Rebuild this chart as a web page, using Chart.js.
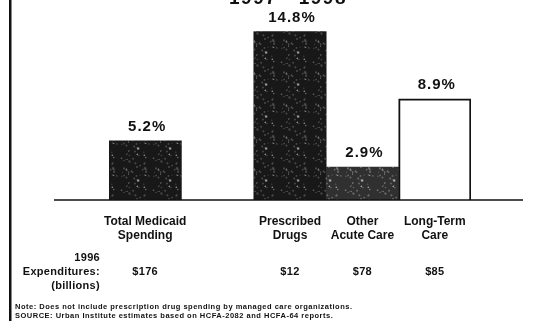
<!DOCTYPE html>
<html>
<head>
<meta charset="utf-8">
<script src="https://cdn.jsdelivr.net/npm/chart.js@4.4.1/dist/chart.umd.min.js"></script>
<style>
  html, body { margin: 0; padding: 0; background: #fff; }
  #growthChart { display: block; }
</style>
</head>
<body>
<canvas id="growthChart" width="549" height="321"></canvas>
<script>
// Medicaid spending growth by service type, 1997-1998
const periodLabel = '1997 - 1998';
const categories = [['Total Medicaid', 'Spending'], '', ['Prescribed', 'Drugs'], ['Other', 'Acute Care'], ['Long-Term', 'Care']];
const growthPct = [5.2, null, 14.8, 2.9, 8.9];
const spending1996 = [176, null, 12, 78, 85]; // $ billions
const rowHeader = ['1996', 'Expenditures:', '(billions)'];
const notes = [
  'Note: Does not include prescription drug spending by managed care organizations.',
  'SOURCE: Urban Institute estimates based on HCFA-2082 and HCFA-64 reports.'
];

const FONT = '"Liberation Sans", Arial, Helvetica, sans-serif';

// speckled fill, like the halftone of the printed version
function speckle(base, dot, light) {
  const c = document.createElement('canvas');
  c.width = c.height = 32;
  const g = c.getContext('2d');
  g.fillStyle = base;
  g.fillRect(0, 0, 32, 32);
  let s = 11;
  const next = () => (s = (s * 16807) % 2147483647) / 2147483647;
  for (let i = 0; i < 48; i++) {
    g.fillStyle = i % 7 === 0 ? light : dot;
    g.beginPath();
    g.arc(next() * 32, next() * 32, 0.5 + next() * 0.7, 0, Math.PI * 2);
    g.fill();
  }
  return g.createPattern(c, 'repeat');
}

const darkFill = speckle('#181818', '#4a4a4a', '#999');
const grayFill = speckle('#303030', '#6a6a6a', '#aaa');

function spaced(ctx, px) {
  if ('letterSpacing' in ctx) ctx.letterSpacing = px + 'px';
}

const decor = {
  id: 'decor',
  beforeDraw(chart) {
    const { ctx, width, height } = chart;
    ctx.save();
    ctx.fillStyle = '#fff';
    ctx.fillRect(0, 0, width, height);
    ctx.restore();
  },
  afterDraw(chart) {
    const { ctx, scales: { x, y } } = chart;
    const y0 = y.getPixelForValue(0);
    ctx.save();

    // left rule
    ctx.fillStyle = '#111';
    ctx.fillRect(9, 0, 2.5, chart.height);

    // baseline
    ctx.strokeStyle = '#111';
    ctx.lineWidth = 1.5;
    ctx.beginPath();
    ctx.moveTo(54, y0);
    ctx.lineTo(523, y0);
    ctx.stroke();

    // title, clipped at the top edge
    ctx.textAlign = 'center';
    ctx.textBaseline = 'alphabetic';
    ctx.font = 'bold 19px ' + FONT;
    spaced(ctx, 1.5);
    ctx.fillText(periodLabel, 288, 4);

    // growth labels over the bars
    ctx.font = 'bold 15px ' + FONT;
    ctx.textBaseline = 'middle';
    spaced(ctx, 1);
    chart.getDatasetMeta(0).data.forEach((bar, i) => {
      if (growthPct[i] == null) return;
      ctx.fillText(growthPct[i].toFixed(1) + '%', bar.x + 2, bar.y - 14);
    });

    // 1996 expenditures row
    ctx.font = 'bold 11px ' + FONT;
    spaced(ctx, 0.3);
    ctx.textAlign = 'right';
    rowHeader.forEach((t, i) => ctx.fillText(t, 100, 258 + i * 14));
    ctx.textAlign = 'center';
    spending1996.forEach((v, i) => {
      if (v == null) return;
      ctx.fillText('$' + v, x.getPixelForValue(i), 272);
    });

    // notes
    ctx.textAlign = 'left';
    ctx.font = 'bold 7.5px ' + FONT;
    spaced(ctx, 0.5);
    notes.forEach((t, i) => ctx.fillText(t, 15, 307 + i * 8.5));
    ctx.restore();
  }
};

new Chart(document.getElementById('growthChart'), {
  type: 'bar',
  data: {
    labels: categories,
    datasets: [{
      data: growthPct,
      backgroundColor: [darkFill, 'transparent', darkFill, grayFill, '#fff'],
      borderColor: '#111',
      borderWidth: [0, 0, 0, 0, 2],
      barPercentage: 1,
      categoryPercentage: 1
    }]
  },
  options: {
    responsive: false,
    animation: false,
    devicePixelRatio: 1,
    layout: { padding: { left: 109, right: 78, top: 18, bottom: 0 } },
    plugins: { legend: { display: false }, tooltip: { enabled: false } },
    scales: {
      x: {
        grid: { display: false, drawTicks: false },
        border: { display: false },
        ticks: {
          color: '#111',
          font: { family: FONT, size: 12, weight: 'bold', lineHeight: 1.15 },
          padding: 15,
          maxRotation: 0,
          autoSkip: false
        },
        afterFit: s => { s.height = 121; }
      },
      y: { display: false, min: 0, max: 16 }
    }
  },
  plugins: [decor]
});
</script>
</body>
</html>
